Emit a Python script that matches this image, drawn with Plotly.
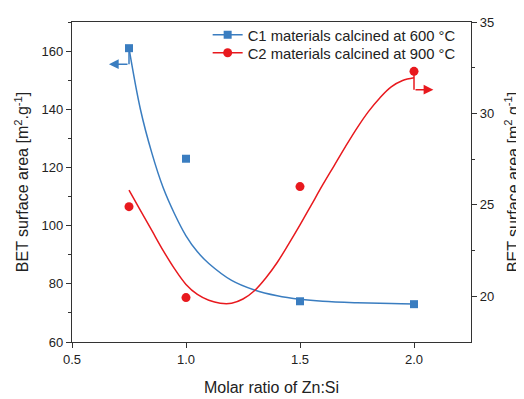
import plotly.graph_objects as go

# ---- data ----
ratio = [0.75, 1.0, 1.5, 2.0]
c1_bet = [161, 123, 74, 73]          # left axis, C1 @ 600 °C
c2_bet = [24.9, 19.93, 26.0, 32.3]   # right axis, C2 @ 900 °C

c1_fit_x = [0.75, 0.8, 0.85, 0.9, 0.95, 1.0, 1.05, 1.1, 1.2, 1.3, 1.4, 1.5, 1.6, 1.75, 1.9, 2.0]
c1_fit_y = [161, 140, 125, 113, 104, 96.5, 91, 87, 81.2, 77.9, 75.9, 74.7, 74.0, 73.5, 73.2, 73.1]

c2_fit_x = [0.75, 0.8, 0.85, 0.9, 0.95, 1.0, 1.05, 1.1, 1.15, 1.2, 1.25, 1.3, 1.35, 1.4, 1.45,
            1.5, 1.55, 1.6, 1.65, 1.7, 1.75, 1.8, 1.85, 1.9, 1.95, 2.0]
c2_fit_y = [25.8, 24.7, 23.6, 22.5, 21.5, 20.65, 20.1, 19.78, 19.62, 19.62, 19.85, 20.3, 21.0, 21.85, 22.85,
            23.9, 25.0, 26.1, 27.15, 28.2, 29.2, 30.1, 30.85, 31.45, 31.8, 31.95]

names = ["C1 materials calcined at 600 °C", "C2 materials calcined at 900 °C"]

BLUE = "#3a7dc0"
RED = "#e8191e"
FONT = "Arial, Liberation Sans, sans-serif"

fig = go.Figure()

fig.add_trace(go.Scatter(x=c1_fit_x, y=c1_fit_y, mode="lines", line=dict(color=BLUE, width=1.5, shape="spline"),
                         showlegend=False, yaxis="y"))
fig.add_trace(go.Scatter(x=ratio, y=c1_bet, mode="markers", marker=dict(symbol="square", size=8, color=BLUE),
                         showlegend=False, yaxis="y"))
fig.add_trace(go.Scatter(x=c2_fit_x, y=c2_fit_y, mode="lines", line=dict(color=RED, width=1.5, shape="spline"),
                         showlegend=False, yaxis="y2"))
fig.add_trace(go.Scatter(x=ratio, y=c2_bet, mode="markers", marker=dict(symbol="circle", size=9, color=RED),
                         showlegend=False, yaxis="y2"))

# legend entries (two legends so the row spacing can match)
fig.add_trace(go.Scatter(x=[None], y=[None], mode="lines+markers", name=names[0], legend="legend",
                         line=dict(color=BLUE, width=1.5), marker=dict(symbol="square", size=8, color=BLUE)))
fig.add_trace(go.Scatter(x=[None], y=[None], mode="lines+markers", name=names[1], legend="legend2",
                         line=dict(color=RED, width=1.5), marker=dict(symbol="circle", size=9, color=RED),
                         yaxis="y2"))

# axis-indicator arrows, anchored on first C1 point and last C2 point
bx, by = ratio[0], c1_bet[0]
rx, ry = ratio[-1], c2_bet[-1]
by_turn = by - 5.5
ry_turn = ry - 1.0
fig.add_shape(type="line", x0=bx, x1=bx, y0=by, y1=by_turn, xref="x", yref="y", line=dict(color=BLUE, width=1.5))
fig.add_shape(type="line", x0=rx, x1=rx, y0=ry, y1=ry_turn, xref="x", yref="y2", line=dict(color=RED, width=1.5))
fig.add_annotation(x=bx - 0.088, y=by_turn, ax=bx, ay=by_turn, xref="x", yref="y", axref="x", ayref="y",
                   text="", showarrow=True, arrowhead=2, arrowsize=1.3, arrowwidth=1.5, arrowcolor=BLUE)
fig.add_annotation(x=rx + 0.085, y=ry_turn, ax=rx, ay=ry_turn, xref="x", yref="y2", axref="x", ayref="y2",
                   text="", showarrow=True, arrowhead=2, arrowsize=1.3, arrowwidth=1.5, arrowcolor=RED)

axis_common = dict(showline=True, linecolor="#333333", linewidth=1.2, ticks="outside", ticklen=5,
                   tickcolor="#333333", showgrid=False, zeroline=False, automargin=False,
                   tickfont=dict(size=13, color="#222222", family=FONT))

legend_common = dict(xanchor="left", yanchor="middle", bgcolor="rgba(0,0,0,0)",
                     font=dict(size=14.8, family=FONT, color="#222222"), itemwidth=30)

# the page body adds an 8px offset; margins compensate for it
fig.update_layout(
    width=524, height=399,
    margin=dict(l=64, r=61, t=13, b=65),
    paper_bgcolor="white", plot_bgcolor="white",
    font=dict(family=FONT, color="#222222"),
    xaxis=dict(range=[0.5, 2.25], tickvals=[0.5, 1.0, 1.5, 2.0], ticktext=["0.5", "1.0", "1.5", "2.0"],
               mirror=True,
               title=dict(text="Molar ratio of Zn:Si", font=dict(size=16), standoff=16),
               **axis_common),
    yaxis=dict(range=[60, 170], tick0=60, dtick=20,
               minor=dict(ticks="outside", dtick=10, ticklen=3, tickcolor="#333333"),
               title=dict(text="BET surface area [m<sup>2</sup>.g<sup>-1</sup>]", font=dict(size=16), standoff=8),
               **axis_common),
    yaxis2=dict(range=[17.5, 35], tickvals=[20, 25, 30, 35], overlaying="y", side="right",
                minor=dict(ticks="outside", tickvals=[22.5, 27.5, 32.5], ticklen=3, tickcolor="#333333"),
                title=dict(text="BET surface area [m<sup>2</sup>.g<sup>-1</sup>]", font=dict(size=16), standoff=14),
                **axis_common),
    legend=dict(x=0.34, y=0.956, **legend_common),
    legend2=dict(x=0.34, y=0.900, **legend_common),
    showlegend=True,
)

fig.write_html("out.html")
